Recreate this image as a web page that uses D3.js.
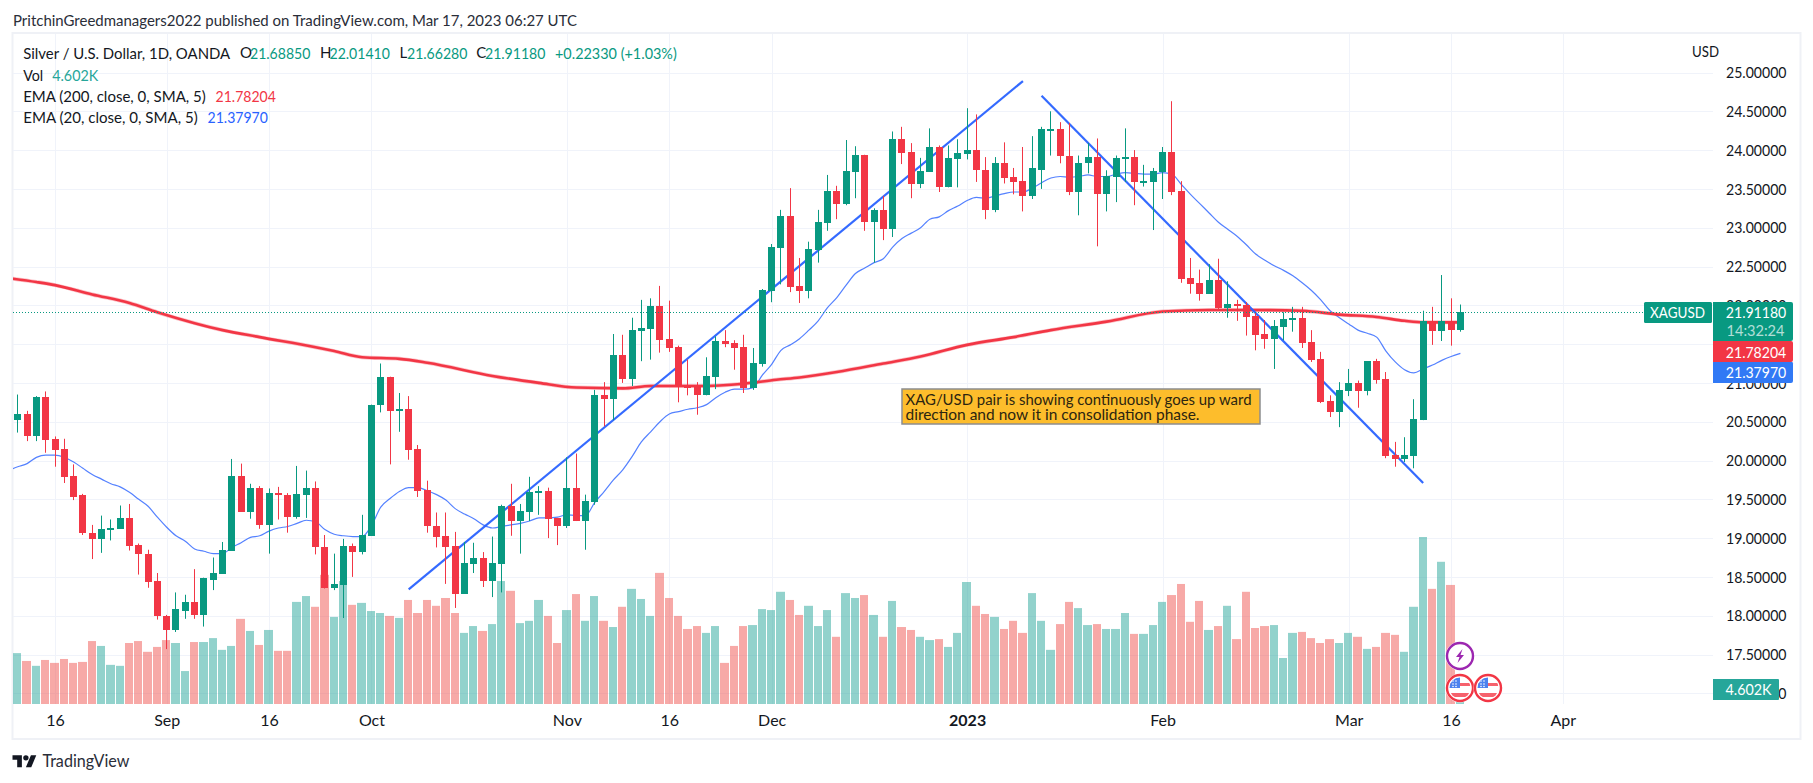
<!DOCTYPE html>
<html><head><meta charset="utf-8">
<script src="https://cdn.jsdelivr.net/npm/d3@7/dist/d3.min.js"></script>
<style>html,body{margin:0;padding:0;background:#fff;overflow:hidden}svg{display:block}text{font-family:Lato,"Open Sans",sans-serif}</style>
</head><body>
<div id="chart"></div>
<script>
// Bars run from bar index -4 (first visible) to 151 (Mar 17, 2023); index 0 is Aug 16, 2022.
const firstBar = -4;
const opens = [20.52,20.60,20.31,20.82,20.28,20.15,19.80,19.55,19.07,18.99,19.11,19.12,19.26,18.91,18.80,18.45,18.00,17.81,18.06,18.18,18.01,18.46,18.54,18.84,19.80,19.34,19.65,19.17,19.58,19.56,19.27,19.56,
19.65,18.89,18.36,18.40,18.90,18.82,19.03,20.71,21.08,20.64,20.67,20.15,19.62,19.16,19.03,18.90,18.28,18.67,18.75,18.45,18.67,19.42,19.22,19.34,19.58,19.61,19.26,19.16,19.64,19.22,19.47,
20.84,20.79,21.36,21.05,21.67,21.70,21.99,21.57,21.46,20.97,20.97,20.84,21.08,21.54,21.51,21.46,20.93,21.24,22.18,22.74,23.15,22.25,22.18,22.71,23.06,23.47,23.31,23.72,23.94,23.07,23.23,
22.98,24.14,23.97,23.56,23.72,24.04,23.52,23.88,23.95,24.00,23.75,23.23,23.84,23.65,23.60,23.41,23.75,24.26,24.27,23.93,23.46,23.83,23.91,23.44,23.65,23.88,23.91,23.59,23.59,23.72,23.97,
23.47,22.35,22.29,22.15,22.33,21.97,22.02,22.00,21.86,21.63,21.57,21.72,21.81,21.84,21.53,21.31,20.77,20.63,20.90,21.00,20.90,21.28,21.05,20.07,20.02,20.06,20.52,21.80,21.67,21.80,21.68];
const closes = [20.60,20.31,20.82,20.27,20.14,19.79,19.53,19.06,18.99,19.12,19.13,19.26,18.90,18.79,18.44,17.99,17.81,18.08,18.18,18.01,18.48,18.55,18.85,19.80,19.34,19.65,19.17,19.58,19.55,19.27,19.57,19.65,
18.88,18.36,18.41,18.90,18.82,19.04,20.72,21.08,20.64,20.67,20.14,19.61,19.15,19.02,18.89,18.28,18.68,18.75,18.45,18.68,19.42,19.22,19.35,19.60,19.61,19.25,19.16,19.64,19.22,19.48,20.85,
20.79,21.36,21.05,21.68,21.71,21.99,21.55,21.45,20.96,20.93,20.84,21.09,21.54,21.50,21.45,20.93,21.26,22.20,22.75,23.15,22.24,22.18,22.73,23.07,23.47,23.31,23.73,23.94,23.07,23.23,22.98,
24.14,23.96,23.56,23.73,24.04,23.52,23.90,23.96,24.00,23.74,23.23,23.84,23.64,23.59,23.41,23.77,24.27,24.27,23.92,23.46,23.84,23.91,23.44,23.66,23.90,23.91,23.59,23.60,23.73,23.97,23.46,
22.34,22.27,22.15,22.33,21.97,22.02,21.99,21.85,21.62,21.57,21.73,21.82,21.84,21.51,21.30,20.75,20.63,20.91,21.00,20.90,21.28,21.04,20.06,20.02,20.07,20.54,21.80,21.67,21.80,21.68,21.91];
const highs = [20.85,20.64,20.83,20.89,20.31,20.28,19.95,19.57,19.17,19.29,19.24,19.42,19.44,18.93,18.85,18.55,18.01,18.30,18.27,18.60,18.49,18.75,18.95,20.02,19.96,19.70,19.67,19.64,19.66,19.58,19.93,19.87,
19.73,19.04,18.80,18.99,18.93,19.30,20.72,21.25,21.08,20.87,20.83,20.20,19.74,19.33,19.33,19.08,18.95,18.94,18.82,19.02,19.43,19.70,19.44,19.79,19.67,19.65,19.26,20.04,20.09,19.56,20.91,
21.01,21.63,21.62,21.84,22.07,22.09,22.25,22.06,21.48,21.30,21.01,21.33,21.60,21.68,21.55,21.62,21.45,22.21,22.79,23.23,23.51,22.61,22.82,23.23,23.68,23.54,24.13,24.05,23.94,23.25,23.41,
24.24,24.30,24.09,23.90,24.28,24.06,24.06,24.14,24.54,24.46,23.91,23.91,24.10,23.77,24.04,24.18,24.30,24.50,24.36,24.35,23.93,24.09,24.15,23.74,23.93,24.28,24.00,23.81,23.77,24.04,24.63,
23.60,22.61,22.46,22.53,22.60,22.31,22.07,22.04,21.91,21.81,21.81,21.91,21.98,21.98,21.68,21.40,20.84,21.01,21.18,21.03,21.28,21.31,21.14,20.24,20.30,20.79,21.93,21.98,22.39,22.09,22.01];
const lows = [20.36,20.25,20.25,20.10,19.92,19.71,19.49,19.04,18.73,18.81,18.97,19.12,18.84,18.53,18.36,17.95,17.57,17.79,17.96,17.96,17.86,18.33,18.54,18.84,19.34,19.25,19.12,18.80,19.24,19.07,19.25,19.26,
18.79,18.35,18.33,17.97,18.50,18.79,19.03,20.62,19.95,20.37,20.01,19.53,19.07,18.88,18.41,18.10,18.28,18.55,18.37,18.24,18.30,19.03,18.80,19.22,19.30,19.00,18.91,19.13,19.22,18.85,19.43,
20.44,20.52,21.00,20.96,21.28,21.30,21.39,21.40,20.75,20.84,20.59,20.84,20.92,21.46,21.17,20.87,20.91,21.21,22.04,22.27,22.17,22.03,22.09,22.55,22.96,23.11,23.29,23.38,22.96,22.55,22.84,
22.88,23.82,23.38,23.51,23.72,23.46,23.52,23.52,23.88,23.59,23.11,23.20,23.57,23.43,23.21,23.37,23.50,23.93,23.83,23.42,23.16,23.70,22.76,23.21,23.33,23.59,23.29,23.53,22.97,23.37,23.42,
22.29,22.15,22.06,22.15,21.93,21.84,21.80,21.61,21.42,21.44,21.18,21.55,21.66,21.45,21.27,20.74,20.56,20.43,20.83,20.68,20.84,20.99,20.03,19.92,19.98,19.90,20.52,21.49,21.54,21.48,21.66];
// Volume in thousands
const volumes = [15.6,13.2,11.7,13.5,12.6,13.8,12.6,12.9,19.3,17.8,12.0,11.7,18.7,19.3,16.0,17.5,19.6,18.7,10.1,19.0,19.0,20.2,16.6,17.8,26.1,22.4,18.1,22.7,16.3,16.3,31.3,33.1,
29.8,39.6,26.7,37.7,30.4,31.0,28.5,27.9,27.0,26.4,31.9,27.9,31.9,30.1,32.5,27.9,21.8,23.9,22.4,24.5,37.7,34.7,24.8,25.5,31.9,27.0,18.7,28.8,33.7,25.5,33.1,
25.5,23.6,29.8,35.3,32.2,27.0,40.2,32.5,27.0,23.0,23.9,21.8,23.9,12.6,17.8,23.9,24.2,29.1,28.8,34.4,31.9,27.3,30.1,23.9,28.8,20.6,34.0,32.5,33.4,27.3,20.6,
31.6,23.6,22.7,20.6,19.6,19.9,17.5,21.8,37.4,30.1,27.6,26.7,23.0,25.5,21.8,34.0,25.5,16.6,24.5,31.3,29.4,24.2,24.5,23.0,23.0,27.9,21.5,21.5,24.2,31.3,33.4,
36.8,25.2,31.6,22.7,23.9,30.1,19.9,34.4,23.3,23.9,24.2,14.1,21.8,22.1,20.2,18.7,19.9,18.7,21.8,20.6,16.9,17.5,21.8,21.2,16.0,29.8,51.2,35.3,43.6,36.5,4.602];
// EMA 20: bar index -5 .. 151
const ema20First = -5;
const ema20 = [19.87,19.92,19.96,20.04,20.07,20.07,20.04,19.98,19.90,19.82,19.76,19.70,19.66,19.59,19.50,19.41,19.27,19.14,19.03,18.96,18.86,18.83,18.80,18.80,18.88,18.94,19.01,19.03,19.09,19.13,19.15,19.19,19.23,
19.21,19.11,19.05,19.03,19.02,19.02,19.16,19.40,19.51,19.60,19.65,19.65,19.61,19.56,19.49,19.38,19.31,19.25,19.17,19.13,19.15,19.17,19.19,19.22,19.26,19.26,19.27,19.30,19.29,19.29,19.46,
19.60,19.75,19.88,20.05,20.24,20.37,20.50,20.60,20.63,20.66,20.68,20.72,20.81,20.88,20.92,20.92,20.94,21.10,21.24,21.42,21.49,21.57,21.68,21.80,21.97,22.10,22.26,22.41,22.48,22.55,22.60,
22.75,22.86,22.93,23.00,23.11,23.14,23.22,23.28,23.35,23.39,23.38,23.41,23.44,23.46,23.46,23.51,23.58,23.64,23.66,23.65,23.66,23.68,23.66,23.66,23.69,23.71,23.70,23.69,23.69,23.71,23.69,
23.56,23.43,23.31,23.19,23.07,22.98,22.89,22.78,22.66,22.58,22.51,22.45,22.38,22.29,22.19,22.07,21.93,21.84,21.76,21.68,21.64,21.59,21.41,21.27,21.17,21.13,21.18,21.23,21.29,21.34,21.38];
// EMA 200 at these bar indices
const ema200Index = [-5,-2,0,4,8,11,15,18,22,28,30,33,37,40,47,52,56,61,64,69,74,77.5,80,84,89,93,98,103,107,113,119,124,128,134,138,142,145,147,151];
const ema200 = [22.35,22.30,22.26,22.14,22.03,21.91,21.77,21.68,21.59,21.46,21.41,21.33,21.31,21.26,21.09,21.00,20.94,20.93,20.96,20.96,20.99,21.04,21.07,21.14,21.25,21.34,21.49,21.59,21.68,21.79,21.92,21.94,21.94,21.93,21.88,21.85,21.80,21.78,21.78];
// Drawn trend lines: bar index and price at each end
const trendIndex = [[38,104],[106,147]];
const trendPrice = [[18.34,24.89],[24.70,19.71]];
// Axes
const priceTicks = [25,24.5,24,23.5,23,22.5,22,21.5,21,20.5,20,19.5,19,18.5,18,17.5,17];
const timeTickIndex = [0,12,23,34,55,66,77,98,119,139,150,162];
const timeTickLabels = ["16","Sep","16","Oct","Nov","16","Dec","2023","Feb","Mar","16","Apr"];
const lastPrice = 21.9118, lastEma200 = 21.78204, lastEma20 = 21.3797;

const W = 1813, H = 783;
const INK = "#131722", GRID = "#f0f3fa", UP = "#089981", DOWN = "#f23645", BLUE = "#2962ff";
const L = 13, R = 1713, T = 34, B = 704;
const x = d3.scaleLinear().domain([0,151]).range([55,1460.4]);
const y = d3.scaleLinear().domain([25,17]).range([72.5,693.3]);
const yVol = d3.scaleLinear().domain([0,51.2]).range([B,B-167]);

const svg = d3.select("#chart").append("svg").attr("width",W).attr("height",H);
const defs = svg.append("defs");
defs.append("clipPath").attr("id","pane").append("rect").attr("x",L).attr("y",T).attr("width",R-L).attr("height",B-T);

function txt(g,s,xp,yp,opt){
  opt = opt||{};
  const t = g.append("text").attr("x",xp).attr("y",yp).attr("dy","0.35em").text(s)
    .attr("fill",opt.fill||INK).style("font-size",(opt.size||16)+"px");
  if(opt.len){t.attr("textLength",opt.len).attr("lengthAdjust","spacingAndGlyphs");}
  if(opt.anchor)t.attr("text-anchor",opt.anchor);
  if(opt.weight)t.style("font-weight",opt.weight);
  if(opt.opacity)t.attr("fill-opacity",opt.opacity);
  return t;
}

// Frame
svg.append("rect").attr("x",12.5).attr("y",33).attr("width",1788).attr("height",706)
  .attr("fill","#fff").attr("stroke","#eff1f6").attr("stroke-width",2);

// Grid
const gridG = svg.append("g").attr("stroke",GRID).attr("stroke-width",1);
gridG.selectAll("line.h").data(priceTicks).join("line").attr("class","h")
  .attr("x1",L).attr("x2",R).attr("y1",d=>Math.round(y(d))+0.5).attr("y2",d=>Math.round(y(d))+0.5);
gridG.selectAll("line.v").data(timeTickIndex).join("line").attr("class","v")
  .attr("y1",T).attr("y2",B).attr("x1",d=>Math.round(x(d))+0.5).attr("x2",d=>Math.round(x(d))+0.5);

const pane = svg.append("g").attr("clip-path","url(#pane)");

// Candle table built from the arrays
const bars = opens.map((o,k)=>({i:k+firstBar,o,c:closes[k],h:highs[k],l:lows[k],v:volumes[k]}));
const left = i=>Math.round(x(i)-4.65);

// Volume
pane.append("g").selectAll("rect").data(bars).join("rect")
  .attr("x",d=>left(d.i)).attr("width",d=>left(d.i+1)-left(d.i)-1)
  .attr("y",d=>yVol(d.v)).attr("height",d=>B-yVol(d.v))
  .attr("fill",d=>d.c>=d.o?"#26a69a":"#ef5350").attr("fill-opacity",0.5);

// EMA lines
const lineEma20 = d3.line().x((d,k)=>x(k+ema20First)).y(d=>y(d)).curve(d3.curveMonotoneX);
pane.append("path").attr("d",lineEma20(ema20)).attr("fill","none").attr("stroke",BLUE).attr("stroke-opacity",0.8).attr("stroke-width",1.2);
const lineEma200 = d3.line().x((d,k)=>x(ema200Index[k])).y(d=>y(d)).curve(d3.curveMonotoneX);
pane.append("path").attr("d",lineEma200(ema200)).attr("fill","none").attr("stroke",DOWN).attr("stroke-opacity",0.3).attr("stroke-width",4);
pane.append("path").attr("d",lineEma200(ema200)).attr("fill","none").attr("stroke",DOWN).attr("stroke-width",2.6);

// Last price dotted line
svg.append("line").attr("x1",L).attr("x2",R).attr("y1",Math.round(y(lastPrice))+0.5).attr("y2",Math.round(y(lastPrice))+0.5)
  .attr("stroke",UP).attr("stroke-width",1).attr("stroke-dasharray","1 2");

// Trend lines
pane.append("g").selectAll("line").data(trendIndex).join("line")
  .attr("x1",d=>x(d[0])).attr("x2",d=>x(d[1]))
  .attr("y1",(d,k)=>y(trendPrice[k][0])).attr("y2",(d,k)=>y(trendPrice[k][1]))
  .attr("stroke",BLUE).attr("stroke-width",2.2).attr("stroke-opacity",0.95);

// Candles
const cg = pane.append("g");
cg.selectAll("rect.w").data(bars).join("rect").attr("class","w")
  .attr("x",d=>Math.round(x(d.i)-0.5)).attr("width",1)
  .attr("y",d=>y(d.h)).attr("height",d=>y(d.l)-y(d.h))
  .attr("fill",d=>d.c>=d.o?UP:DOWN);
cg.selectAll("rect.b").data(bars).join("rect").attr("class","b")
  .attr("x",d=>Math.round(x(d.i)-0.5)-3).attr("width",7)
  .attr("y",d=>Math.round(y(Math.max(d.o,d.c))))
  .attr("height",d=>Math.max(2,Math.round(y(Math.min(d.o,d.c)))-Math.round(y(Math.max(d.o,d.c)))))
  .attr("fill",d=>d.c>=d.o?UP:DOWN);

// Note box
svg.append("rect").attr("x",902).attr("y",389).attr("width",358).attr("height",35)
  .attr("fill","#fdbd2c").attr("stroke","#8c8d8f").attr("stroke-width",1.5);
const noteG = svg.append("g");
txt(noteG,"XAG/USD pair is showing continuously goes up ward",905.5,399.5,{fill:"#2c2510",len:346});
txt(noteG,"direction and now it in consolidation phase.",905.5,414,{fill:"#2c2510",len:294});

// Axes
const yAxis = d3.axisRight(y).tickValues(priceTicks).tickSize(0).tickPadding(13).tickFormat(d3.format(".5f"));
const yg = svg.append("g").attr("transform",`translate(${R},0)`).call(yAxis);
yg.select(".domain").remove();
yg.selectAll("text").attr("fill",INK).style("font-size","16px").attr("textLength",60.5).attr("lengthAdjust","spacingAndGlyphs");

const xAxis = d3.axisBottom(x).tickValues(timeTickIndex).tickSize(0).tickPadding(0).tickFormat((d,k)=>timeTickLabels[k]);
const xg = svg.append("g").attr("transform",`translate(0,${B+11})`).call(xAxis);
xg.select(".domain").remove();
xg.selectAll("text").attr("fill",INK).style("font-size","16px").style("font-weight",d=>d===98?"700":"400");

txt(svg,"USD",1692,51,{len:27});

// Right-hand price labels
function tag(x0,x1,y0,y1,fill,r){
  svg.append("path").attr("fill",fill)
    .attr("d",`M${x0},${y0}H${x1-r}Q${x1},${y0} ${x1},${y0+r}V${y1-r}Q${x1},${y1} ${x1-r},${y1}H${x0}Z`);
}
tag(1713,1793,361.5,383,"#3179f5",2);
tag(1713,1793,341,362,DOWN,2);
tag(1713,1793,302,341,UP,2);
svg.append("rect").attr("x",1644).attr("y",302).attr("width",68).attr("height",21).attr("rx",1.5).attr("fill",UP);
txt(svg,"XAGUSD",1650,312.5,{fill:"#fff",len:55});
txt(svg,d3.format(".5f")(lastPrice),1725.8,312.5,{fill:"#fff",len:60.5});
txt(svg,"14:32:24",1726.5,330.5,{fill:"#fff",len:58,opacity:0.7});
txt(svg,d3.format(".5f")(lastEma200),1725.8,352,{fill:"#fff",len:60.5});
txt(svg,d3.format(".5f")(lastEma20),1725.8,372.5,{fill:"#fff",len:60.5});
tag(1713,1779,679,700,"#26a69a",1);
txt(svg,d3.format(".3f")(volumes[volumes.length-1])+"K",1725.5,689.8,{fill:"#fff",len:46});

// Event icons
function eventIcon(cx,cy,ring,id,draw){
  const g = svg.append("g").attr("transform",`translate(${cx},${cy})`);
  g.append("circle").attr("r",14.5).attr("fill","#fff");
  g.append("circle").attr("r",13).attr("fill","#fff").attr("stroke",ring).attr("stroke-width",2.4);
  defs.append("clipPath").attr("id",id).append("circle").attr("r",10.5);
  draw(g.append("g").attr("clip-path",`url(#${id})`));
}
eventIcon(1460,656,"#9c27b0","c1",g=>{
  g.append("path").attr("d","M2.5,-7 L-4,1 H-0.5 L-2.5,7 L4,-1 H0.5 Z").attr("fill","#9c27b0");
});
function flag(g){
  g.append("rect").attr("x",-11).attr("y",-11).attr("width",22).attr("height",22).attr("fill","#fff");
  g.append("rect").attr("x",-11).attr("y",-5).attr("width",22).attr("height",3).attr("fill","#f6616c");
  g.append("rect").attr("x",-11).attr("y",5).attr("width",22).attr("height",4).attr("fill","#f6616c");
  g.append("rect").attr("x",-11).attr("y",-11).attr("width",11).attr("height",11).attr("fill","#4c82ee");
  g.selectAll("circle.s").data([[-7,-7],[-4,-7],[-7,-4],[-4,-4],[-7,-1.5],[-4,-1.5]]).join("circle").attr("class","s")
    .attr("cx",d=>d[0]).attr("cy",d=>d[1]).attr("r",0.8).attr("fill","#fff");
}
eventIcon(1460,688,"#f23645","c2",flag);
eventIcon(1488,688,"#f23645","c3",flag);

// Legend
const lg = svg.append("g");
txt(lg,"Silver / U.S. Dollar, 1D, OANDA",23.2,53,{len:207});
[["O",240,0],["21.68850",250,60.4,UP],["H",320,0],["22.01410",329.5,60.4,UP],["L",399.6,0],["21.66280",407,60.4,UP],["C",476.3,0],["21.91180",485,60.4,UP],["+0.22330 (+1.03%)",555,121.8,UP]]
 .forEach(s=>txt(lg,s[0],s[1],53,{len:s[2]||null,fill:s[3]||INK,size:s[2]?16:15}));
txt(lg,"Vol",23.2,75,{len:20});
txt(lg,"4.602K",52.2,75,{fill:"#26a69a",len:46});
txt(lg,"EMA (200, close, 0, SMA, 5)",23.2,96,{len:182.6});
txt(lg,"21.78204",215.6,96,{fill:DOWN,len:60.3});
txt(lg,"EMA (20, close, 0, SMA, 5)",23.2,117,{len:174.6});
txt(lg,"21.37970",207.6,117,{fill:BLUE,len:60.3});

// Header & footer
txt(svg,"PritchinGreedmanagers2022 published on TradingView.com, Mar 17, 2023 06:27 UTC",13,20,{fill:"#2a2e39",len:564});
svg.append("g").attr("transform","translate(12.5,752.5) scale(0.67)").attr("fill","#131722").call(g=>{
  g.append("path").attr("d","M14 22H7V11H0V4h14v18zM28 22h-8l7.5-18h8L28 22z");
  g.append("circle").attr("cx",20).attr("cy",8).attr("r",4);
});
txt(svg,"TradingView",42.4,761.5,{fill:"#2a2e39",size:17,len:87});
</script>
</body></html>
